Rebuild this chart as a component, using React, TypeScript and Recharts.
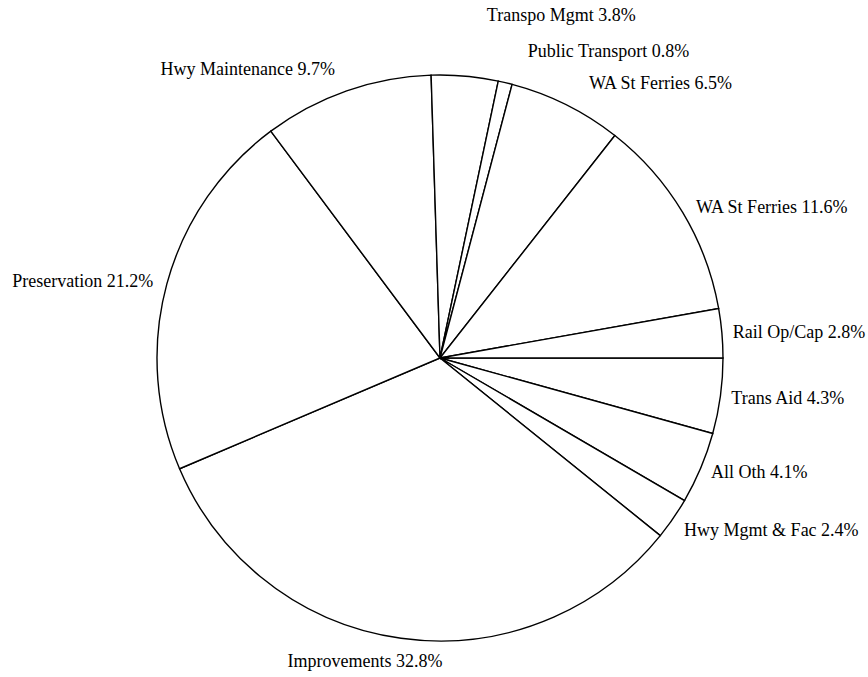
import { PieChart, Pie, Cell } from 'recharts';

// slices listed clockwise starting at 3 o'clock
const categories = [
  'Trans Aid',
  'All Oth',
  'Hwy Mgmt & Fac',
  'Improvements',
  'Preservation',
  'Hwy Maintenance',
  'Transpo Mgmt',
  'Public Transport',
  'WA St Ferries',
  'WA St Ferries',
  'Rail Op/Cap',
];
const shares = [4.3, 4.1, 2.4, 32.8, 21.2, 9.7, 3.8, 0.8, 6.5, 11.6, 2.8];

const data = categories.map((name, i) => ({ name, value: shares[i] }));

// labels moved off the default spot to keep them apart (dx, dy by slice index)
const labelNudge: Record<number, [number, number]> = {
  2: [2, 5],
  3: [43, 12],
  4: [-3, 0],
  5: [-8, -11],
  6: [21, -50],
  7: [20, -21],
  8: [18, -12],
  9: [4, 0],
};

const RAD = Math.PI / 180;
const LABEL_R = 294;

function renderLabel(props: any) {
  const { cx, cy, midAngle, index, name, value } = props;
  const x0 = cx + LABEL_R * Math.cos(-midAngle * RAD);
  const y0 = cy + LABEL_R * Math.sin(-midAngle * RAD);
  const [dx, dy] = labelNudge[index] ?? [0, 0];
  const anchor = x0 >= cx ? 'start' : 'end';
  return (
    <text
      x={x0 + dx}
      y={y0 + dy}
      textAnchor={anchor}
      dominantBaseline="central"
      fill="#000"
      fontFamily="'Liberation Serif', 'Times New Roman', serif"
      fontSize={18}
    >
      {`${name} ${value.toFixed(1)}%`}
    </text>
  );
}

export default function App() {
  return (
    <div style={{ position: 'absolute', left: 0, top: 0, width: 868, height: 677, background: '#fff' }}>
      <PieChart width={868} height={677} margin={{ top: 0, right: 0, bottom: 0, left: 0 }}>
        <Pie
          data={data}
          dataKey="value"
          nameKey="name"
          cx={440}
          cy={358}
          outerRadius={283}
          startAngle={0}
          endAngle={-360}
          stroke="#000"
          strokeWidth={1.4}
          label={renderLabel}
          labelLine={false}
          isAnimationActive={false}
        >
          {data.map((entry, index) => (
            <Cell key={`cell-${index}`} fill="#fff" />
          ))}
        </Pie>
      </PieChart>
    </div>
  );
}
